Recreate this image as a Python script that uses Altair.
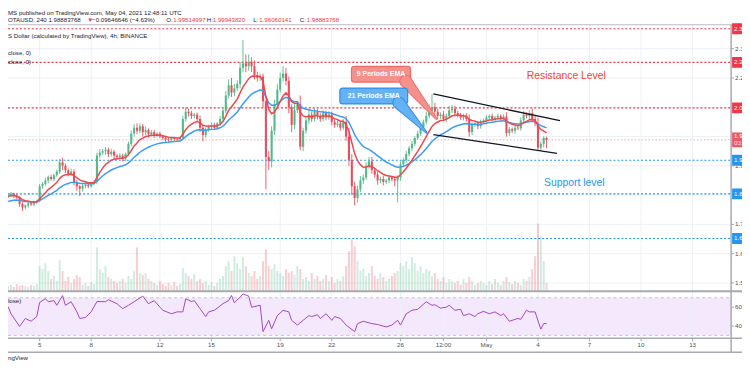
import altair as alt
import pandas as pd

# ---------------- chart values ----------------
# 4h IOTA/USD candles, first one opens 2021-04-03 04:00 UTC
first_candle = "2021-04-03 04:00"
first_open = 1.795
closes = [
    1.800, 1.805, 1.798, 1.792, 1.770, 1.758, 1.765, 1.772, 1.768, 1.775,
    1.780, 1.830, 1.838, 1.850, 1.862, 1.855, 1.868, 1.880, 1.912, 1.900,
    1.885, 1.872, 1.880, 1.845, 1.830, 1.822, 1.832, 1.835, 1.830, 1.840,
    1.845, 1.935, 1.945, 1.950, 1.955, 1.940, 1.948, 1.935, 1.930, 1.935,
    1.925, 1.940, 1.975, 2.010, 2.030, 2.020, 2.035, 2.015, 2.022, 2.008,
    2.015, 2.005, 2.010, 2.000, 1.995, 1.990, 1.988, 1.995, 1.992, 1.990,
    1.995, 2.060, 2.085, 2.080, 2.070, 2.075, 2.060, 2.030, 2.005, 2.025,
    2.035, 2.040, 2.030, 2.045, 2.060, 2.088, 2.140, 2.175, 2.150, 2.165,
    2.180, 2.235, 2.250, 2.240, 2.255, 2.240, 2.210, 2.200, 2.205, 2.120,
    1.930, 1.915, 2.020, 2.110, 2.160, 2.200, 2.215, 2.190, 2.100, 2.040,
    2.090, 2.110, 1.965, 2.020, 2.055, 2.075, 2.060, 2.085, 2.070, 2.060,
    2.080, 2.065, 2.075, 2.050, 2.040, 2.045, 2.030, 2.050, 2.000, 1.920,
    1.830, 1.790, 1.820, 1.850, 1.860, 1.900, 1.915, 1.885, 1.870, 1.850,
    1.855, 1.845, 1.850, 1.860, 1.855, 1.850, 1.860, 1.905, 1.920, 1.940,
    1.960, 1.975, 1.995, 2.010, 2.030, 2.050, 2.070, 2.090, 2.100, 2.085,
    2.070, 2.075, 2.060, 2.070, 2.090, 2.095, 2.080, 2.075, 2.065, 2.070,
    2.060, 2.015, 2.040, 2.045, 2.035, 2.050, 2.055, 2.065, 2.070, 2.060,
    2.065, 2.070, 2.062, 2.068, 2.012, 2.025, 2.020, 2.030, 2.028, 2.055,
    2.075, 2.070, 2.080, 2.060, 2.045, 1.962, 1.975, 1.99514997, 1.98883768,
]
# wick lengths beyond the body, in thousandths of a dollar
upper_wick = [
    4, 6, 3, 5, 4, 6, 3, 5, 4, 6,
    5, 8, 6, 10, 5, 8, 6, 7, 12, 15,
    8, 6, 10, 8, 6, 5, 7, 4, 6, 5,
    6, 10, 12, 8, 9, 7, 10, 6, 5, 8,
    6, 5, 8, 10, 12, 15, 10, 8, 12, 6,
    7, 8, 5, 6, 4, 5, 6, 4, 5, 4,
    5, 10, 15, 10, 8, 6, 7, 12, 8, 6,
    6, 8, 7, 5, 10, 12, 15, 20, 25, 15,
    12, 20, 80, 30, 25, 15, 20, 12, 10, 10,
    5, 20, 15, 15, 20, 18, 25, 20, 15, 10,
    20, 12, 30, 10, 12, 15, 10, 12, 8, 10,
    10, 8, 12, 10, 8, 10, 8, 10, 20, 30,
    20, 15, 12, 15, 10, 12, 15, 15, 8, 10,
    8, 10, 6, 8, 5, 6, 8, 10, 8, 10,
    8, 10, 6, 10, 12, 8, 15, 20, 45, 15,
    10, 8, 12, 8, 15, 12, 10, 8, 6, 8,
    10, 15, 8, 10, 8, 8, 6, 8, 6, 8,
    6, 8, 6, 8, 15, 8, 6, 8, 6, 10,
    12, 8, 10, 15, 12, 20, 8, 6, 4.29,
]
lower_wick = [
    5, 4, 8, 6, 10, 12, 6, 8, 5, 6,
    6, 5, 8, 5, 10, 6, 8, 5, 8, 15,
    10, 8, 6, 12, 15, 25, 10, 8, 6, 5,
    6, 8, 10, 8, 12, 10, 8, 12, 10, 8,
    10, 8, 6, 8, 10, 12, 8, 15, 10, 12,
    8, 10, 8, 6, 8, 10, 6, 5, 6, 8,
    6, 8, 10, 12, 10, 8, 10, 15, 20, 10,
    8, 10, 8, 6, 8, 10, 8, 10, 15, 12,
    10, 15, 15, 20, 15, 20, 15, 12, 10, 20,
    110, 30, 20, 15, 12, 10, 12, 15, 20, 25,
    15, 10, 12, 15, 10, 12, 10, 8, 12, 10,
    8, 10, 8, 12, 10, 8, 10, 8, 15, 20,
    30, 25, 15, 10, 12, 8, 10, 12, 10, 15,
    10, 12, 8, 10, 8, 20, 75, 10, 8, 10,
    8, 10, 8, 6, 8, 10, 8, 8, 12, 10,
    12, 10, 8, 10, 8, 10, 12, 10, 8, 10,
    8, 15, 10, 8, 10, 8, 6, 8, 10, 8,
    8, 6, 10, 8, 12, 10, 8, 10, 6, 8,
    6, 8, 10, 8, 10, 7, 10, 12, 28.24,
]
volumes = [
    5, 6, 4, 7, 5, 6, 5, 4, 6, 5,
    7, 25, 22, 28, 20, 12, 15, 10, 31, 20,
    10, 14, 8, 12, 16, 14, 6, 8, 5, 9,
    7, 44, 22, 18, 25, 14, 12, 10, 8, 10,
    12, 8, 15, 12, 20, 44, 18, 16, 18, 12,
    10, 8, 6, 10, 7, 5, 8, 6, 9, 5,
    7, 23, 18, 15, 12, 17, 10, 12, 8, 10,
    6, 9, 5, 8, 12, 15, 25, 30, 20, 35,
    28, 22, 34, 25, 18, 15, 20, 12, 15, 30,
    42, 25, 22, 27, 20, 18, 15, 22, 18, 20,
    16, 25, 22, 12, 14, 10, 18, 12, 15, 10,
    12, 16, 10, 14, 8, 12, 10, 15, 25, 40,
    52, 45, 30, 20, 22, 15, 18, 25, 15, 12,
    18, 14, 10, 12, 15, 18, 20, 28, 25, 30,
    22, 34, 28, 20, 25, 18, 22, 20, 15, 18,
    12, 10, 14, 8, 12, 10, 8, 10, 6, 12,
    8, 14, 10, 6, 8, 10, 8, 6, 10, 7,
    12, 8, 6, 10, 14, 9, 7, 10, 8, 6,
    12, 10, 14, 22, 35, 68, 55, 30, 8,
]
ema9_seed = 1.795
ema21_seed = 1.776

# RSI (14, close): candle number -> value
rsi_candle = [
    0, 1, 4, 6, 8, 10, 11, 13, 14, 16, 17, 19, 20, 22, 24, 25, 27, 29, 31, 34,
    35, 38, 40, 42, 44, 47, 49, 51, 53, 54, 57, 59, 61, 62, 64, 65, 67, 69, 70, 72,
    73, 75, 77, 78, 79, 81, 82, 84, 85, 88, 89, 91, 92, 94, 96, 98, 99, 101, 103, 105,
    106, 108, 109, 111, 113, 114, 116, 118, 121, 122, 124, 127, 129, 132, 134, 136, 137, 139, 141, 143,
    146, 148, 149, 151, 153, 154, 156, 158, 159, 161, 163, 164, 166, 168, 170, 172, 173, 175, 178, 179,
    181, 182, 184, 186, 187, 188,
]
rsi_value = [
    60.5, 53, 39.5, 48, 45, 50, 65, 69, 65.8, 67, 62, 72.4, 62, 65.8, 55, 48, 49, 55, 66, 65.8,
    68, 63.7, 58.4, 62, 65.8, 71.8, 63.7, 67, 60, 56.7, 53, 55, 55, 69, 66, 67, 58.4, 50, 55, 56.7,
    59, 63.7, 67, 72.4, 64.7, 70.7, 74, 71.8, 60, 62, 34, 46, 37, 51, 56.7, 55, 46, 41, 46, 51,
    50, 52, 48, 53, 46, 50, 48, 41, 34, 42.5, 45, 42.5, 41.6, 39, 41, 46, 41, 53, 56.7, 57.7,
    65.8, 62, 62.6, 59, 60, 62, 56.7, 57.7, 51, 53, 50, 53, 55.6, 53, 55, 51, 53, 45, 48, 47,
    56.7, 55, 55, 36.6, 42.6, 42.6,
]

resistance_levels = [2.3682, 2.2534, 2.0980]
support_levels = [1.9189, 1.8041, 1.6520]
last_close = 1.98883768
countdown = "03:11:49"

price_grid = [2.3, 2.2, 2.1, 2.0, 1.9, 1.8, 1.7, 1.6, 1.5]
price_labels = [2.3, 2.2, 1.9, 1.7, 1.6, 1.5]
rsi_labels = [60, 40]
rsi_band = [30, 70]
time_ticks = ["2021-04-05", "2021-04-08", "2021-04-12", "2021-04-15", "2021-04-19",
              "2021-04-22", "2021-04-26", "2021-04-28 12:00", "2021-05-01",
              "2021-05-04", "2021-05-07", "2021-05-10", "2021-05-13"]
time_labels = ["5", "8", "12", "15", "19", "22", "26", "12:00", "May", "4", "7", "10", "13"]

# drawings, in hours after 2021-04-05 00:00 UTC and price in USD
channel_top_t = [549.9, 726.8]
channel_top_p = [2.1453, 2.0541]
channel_bot_t = [549.9, 722.6]
channel_bot_p = [2.0068, 1.9426]
ema9_box_t = [435.5, 518.1]
ema9_box_p = [2.1858, 2.2399]
ema9_tail_t = [511.2, 554.1]
ema9_tail_p = [2.1892, 2.0608]
ema21_box_t = [419.3, 514.0]
ema21_box_p = [2.1115, 2.1655]
ema21_tail_t = [501.5, 540.2]
ema21_tail_p = [2.1149, 2.0135]
resistance_text_at = [680.5, 2.2061]
support_text_at = [704.5, 1.8412]

header1 = "MS published on TradingView.com, May 04, 2021 12:48:11 UTC"
header2 = [("OTAUSD, 240 1.98883768", "dark"), ("\u25bc", "red"),
           ("\u22120.09646646 (\u22124.63%)", "dark"), ("O:", "dark"),
           ("1.99514997", "red"), ("H:", "dark"), ("1.99943820", "red"),
           ("L:", "dark"), ("1.96060141", "red"), ("C:", "dark"), ("1.98883768", "red")]
header3 = "S Dollar (calculated by TradingView), 4h, BINANCE"
legend_ema = ["close, 0)", "close, 0)"]
legend_rsi = "lose)"
footer = "ngView"

# ---------------- styling ----------------
FONT = "Liberation Sans"
UP, DOWN = "#53b987", "#eb4d5c"
EMA9_C, EMA21_C = "#f1464c", "#3b9cf2"
RED_L, BLUE_L = "#f23645", "#2196f3"
GRID = "#edf0f5"
FRAME = "#a6a9b1"
DARK = "#1e222d"
AXIS_T = "#4c525e"
RSI_C = "#a247c9"
RSI_BG = "#f4e8fd"

XS = alt.Scale(domain=[-44.21, 965.8], range=[0, 731], nice=False, zero=False)
PS = alt.Scale(domain=[1.472973, 2.381757], range=[284, 15], nice=False, zero=False)
RS = alt.Scale(domain=[30, 70], range=[329, 291], nice=False, zero=False)
VS = alt.Scale(domain=[0, 100], range=[284, 184], nice=False, zero=False)


def xq(f="t"):
    return alt.X(f"{f}:Q", scale=XS, axis=None)


def yp(f="p"):
    return alt.Y(f"{f}:Q", scale=PS, axis=None)


T0 = pd.Timestamp("2021-04-05")
times = pd.date_range(first_candle, periods=len(closes), freq="4h")
hours = [(t - T0).total_seconds() / 3600 for t in times]
opens = [first_open] + closes[:-1]
highs = [max(o, c) + u / 1000 for o, c, u in zip(opens, closes, upper_wick)]
lows = [min(o, c) - d / 1000 for o, c, d in zip(opens, closes, lower_wick)]
cols = [UP if c >= o else DOWN for o, c in zip(opens, closes)]


def ema(vals, n, seed):
    a = 2.0 / (n + 1)
    e = seed
    out = []
    for v in vals:
        e = a * v + (1 - a) * e
        out.append(e)
    return out


cdf = pd.DataFrame({"t": hours, "o": opens, "c": closes, "h": highs, "l": lows,
                    "col": cols, "v": volumes, "v0": [0] * len(closes),
                    "e9": ema(closes, 9, ema9_seed), "e21": ema(closes, 21, ema21_seed)})

layers = []


def ptext(s, x, y, size=6.2, color=DARK, weight="normal", align="left", font=FONT):
    return alt.Chart(pd.DataFrame({"s": [s]})).mark_text(
        align=align, baseline="middle", fontSize=size, font=font, color=color,
        fontWeight=weight).encode(x=alt.value(x), y=alt.value(y), text="s:N")


def hrule(y, x1, x2, color=FRAME, width=1.0):
    return alt.Chart(pd.DataFrame({"a": [0]})).mark_rule(color=color, strokeWidth=width).encode(
        x=alt.value(x1), x2=alt.value(x2), y=alt.value(y))


# RSI band
layers.append(alt.Chart(pd.DataFrame({"lo": [rsi_band[0]], "hi": [rsi_band[1]]})).mark_rect(
    color=RSI_BG).encode(x=alt.value(0), x2=alt.value(731),
                         y=alt.Y("lo:Q", scale=RS, axis=None), y2="hi:Q"))

# grid
tick_hours = [(pd.Timestamp(d) - T0).total_seconds() / 3600 for d in time_ticks]
tdf = pd.DataFrame({"t": tick_hours, "lab": time_labels})
layers.append(alt.Chart(tdf).mark_rule(color=GRID, strokeWidth=1).encode(
    x=xq(), y=alt.value(15), y2=alt.value(332)))
layers.append(alt.Chart(pd.DataFrame({"p": price_grid})).mark_rule(color=GRID, strokeWidth=1).encode(
    y=yp(), x=alt.value(0), x2=alt.value(731)))

# volume
layers.append(alt.Chart(cdf).mark_rule(strokeWidth=2.0, opacity=0.28).encode(
    x=xq(), y=alt.Y("v:Q", scale=VS, axis=None), y2="v0:Q",
    color=alt.Color("col:N", scale=None)))

# level lines
layers.append(alt.Chart(pd.DataFrame({"p": resistance_levels})).mark_rule(
    color=RED_L, strokeWidth=1.1, strokeDash=[2, 2]).encode(y=yp(), x=alt.value(0), x2=alt.value(731)))
layers.append(alt.Chart(pd.DataFrame({"p": support_levels})).mark_rule(
    color=BLUE_L, strokeWidth=1.1, strokeDash=[2, 2]).encode(y=yp(), x=alt.value(0), x2=alt.value(731)))
layers.append(alt.Chart(pd.DataFrame({"p": [last_close]})).mark_rule(
    color="#f4a3ab", strokeWidth=1, strokeDash=[1.5, 2]).encode(y=yp(), x=alt.value(0), x2=alt.value(731)))

# candles
layers.append(alt.Chart(cdf).mark_rule(strokeWidth=0.9).encode(
    x=xq(), y=yp("l"), y2="h:Q", color=alt.Color("col:N", scale=None)))
layers.append(alt.Chart(cdf).mark_rule(strokeWidth=2.1).encode(
    x=xq(), y=yp("o"), y2="c:Q", color=alt.Color("col:N", scale=None)))

# EMAs
layers.append(alt.Chart(cdf).mark_line(color=EMA21_C, strokeWidth=1.5).encode(x=xq(), y=yp("e21")))
layers.append(alt.Chart(cdf).mark_line(color=EMA9_C, strokeWidth=1.5).encode(x=xq(), y=yp("e9")))

# channel
for tt, pp in [(channel_top_t, channel_top_p), (channel_bot_t, channel_bot_p)]:
    layers.append(alt.Chart(pd.DataFrame({"t": tt, "p": pp})).mark_line(
        color="#131722", strokeWidth=1.3).encode(x=xq(), y=yp()))

# callouts
for bt, bp, tt, tp, txt, fill, edge in [
    (ema9_box_t, ema9_box_p, ema9_tail_t, ema9_tail_p, "9 Periods EMA", "#f4918c", "#ee6d69"),
    (ema21_box_t, ema21_box_p, ema21_tail_t, ema21_tail_p, "21 Periods EMA", "#64b2f5", "#2f8fe8"),
]:
    layers.append(alt.Chart(pd.DataFrame({"t1": [bt[0]], "t2": [bt[1]], "p1": [bp[0]], "p2": [bp[1]]})).mark_rect(
        fill=fill, stroke=edge, strokeWidth=1.2, cornerRadius=3).encode(
        x=xq("t1"), x2="t2:Q", y=yp("p1"), y2="p2:Q"))
    tail = pd.DataFrame({"t": tt, "p": tp, "w": [13, 2.2], "w2": [11, 0.6]})
    layers.append(alt.Chart(tail).mark_trail(color=edge).encode(
        x=xq(), y=yp(), size=alt.Size("w:Q", scale=None, legend=None)))
    layers.append(alt.Chart(tail).mark_trail(color=fill).encode(
        x=xq(), y=yp(), size=alt.Size("w2:Q", scale=None, legend=None)))
    layers.append(alt.Chart(pd.DataFrame({"t": [sum(bt) / 2], "p": [sum(bp) / 2], "s": [txt]})).mark_text(
        color="white", fontSize=7, fontWeight="bold", font=FONT, baseline="middle").encode(
        x=xq(), y=yp(), text="s:N"))

# level texts
layers.append(alt.Chart(pd.DataFrame({"t": [resistance_text_at[0]], "p": [resistance_text_at[1]],
                                      "s": ["Resistance Level"]})).mark_text(
    color="#f44336", fontSize=10.5, font=FONT, align="left", baseline="middle").encode(
    x=xq(), y=yp(), text="s:N"))
layers.append(alt.Chart(pd.DataFrame({"t": [support_text_at[0]], "p": [support_text_at[1]],
                                      "s": ["Support level"]})).mark_text(
    color="#2196f3", fontSize=10.5, font=FONT, align="left", baseline="middle").encode(
    x=xq(), y=yp(), text="s:N"))

# RSI
layers.append(alt.Chart(pd.DataFrame({"r": rsi_band})).mark_rule(
    color="#c2c2c8", strokeWidth=1, strokeDash=[3, 3]).encode(
    y=alt.Y("r:Q", scale=RS, axis=None), x=alt.value(0), x2=alt.value(731)))
rdf = pd.DataFrame({"t": [hours[i] for i in rsi_candle], "r": rsi_value})
layers.append(alt.Chart(rdf).mark_line(color=RSI_C, strokeWidth=1).encode(
    x=xq(), y=alt.Y("r:Q", scale=RS, axis=None)))

# frame
layers.append(hrule(15, 0, 742, "#b8bbc2", 1))
layers.append(hrule(284.5, 0, 742, FRAME, 2))
layers.append(hrule(332, 0, 742, FRAME, 1.5))
layers.append(hrule(346, 0, 742, FRAME, 1.5))
layers.append(alt.Chart(pd.DataFrame({"a": [0]})).mark_rule(color=FRAME, strokeWidth=1.5).encode(
    x=alt.value(731), y=alt.value(15), y2=alt.value(346)))

# time axis
layers.append(alt.Chart(tdf).mark_rule(color=FRAME, strokeWidth=1).encode(
    x=xq(), y=alt.value(332), y2=alt.value(335)))
layers.append(alt.Chart(tdf).mark_text(fontSize=6.3, font=FONT, color=AXIS_T, baseline="middle").encode(
    x=xq(), y=alt.value(339), text="lab:N"))

# price axis
pl = pd.DataFrame({"p": price_labels, "s": [f"{v:.4f}" for v in price_labels]})
layers.append(alt.Chart(pl).mark_rule(color=FRAME, strokeWidth=1).encode(
    y=yp(), x=alt.value(731), x2=alt.value(734)))
layers.append(alt.Chart(pl).mark_text(fontSize=6.3, font=FONT, color=AXIS_T, align="left",
                                      baseline="middle").encode(y=yp(), x=alt.value(735), text="s:N"))
for levels, colr in [(resistance_levels, RED_L), (support_levels, BLUE_L)]:
    ld = pd.DataFrame({"p": levels, "s": [f"{v:.4f}" for v in levels]})
    layers.append(alt.Chart(ld).mark_rule(color=colr, strokeWidth=11).encode(
        y=yp(), x=alt.value(732), x2=alt.value(770)))
    layers.append(alt.Chart(ld).mark_text(fontSize=6.3, font=FONT, color="white", align="left",
                                          baseline="middle").encode(y=yp(), x=alt.value(734), text="s:N"))
lc = pd.DataFrame({"p": [last_close], "s": [f"{last_close:.8f}"], "cd": [countdown]})
layers.append(alt.Chart(lc).mark_rule(color="#ec5868", strokeWidth=15).encode(
    y=yp(), x=alt.value(732), x2=alt.value(770)))
layers.append(alt.Chart(lc).mark_text(fontSize=6.3, font=FONT, color="white", align="left",
                                      baseline="middle", dy=-3.5).encode(y=yp(), x=alt.value(734), text="s:N"))
layers.append(alt.Chart(lc).mark_text(fontSize=6.3, font=FONT, color="#fde0e3", align="left",
                                      baseline="middle", dy=3.5).encode(y=yp(), x=alt.value(734), text="cd:N"))
rl = pd.DataFrame({"r": rsi_labels, "s": [str(v) for v in rsi_labels]})
layers.append(alt.Chart(rl).mark_rule(color=FRAME, strokeWidth=1).encode(
    y=alt.Y("r:Q", scale=RS, axis=None), x=alt.value(731), x2=alt.value(734)))
layers.append(alt.Chart(rl).mark_text(fontSize=6.3, font=FONT, color=AXIS_T, align="left",
                                      baseline="middle").encode(
    y=alt.Y("r:Q", scale=RS, axis=None), x=alt.value(735), text="s:N"))

# header / legends
layers.append(ptext(header1, 0, 2.8))
seg_x = [0, 80, 85, 160, 167, 201, 207, 248, 254, 295, 302]
for (s, kind), x in zip(header2, seg_x):
    layers.append(ptext(s, x, 10.5, color=(RED_L if kind == "red" else DARK)))
layers.append(ptext(header3, 0, 26))
layers.append(ptext(legend_ema[0], 0, 44))
layers.append(ptext(legend_ema[1], 0, 53))
layers.append(ptext(legend_rsi, 0, 294.5))
layers.append(ptext(footer, 0, 352))

chart = alt.layer(*layers).resolve_scale(y="independent").properties(
    width=742, height=356, padding=0, autosize=alt.AutoSizeParams(type="none"),
    background="white").configure_view(stroke=None)

chart.save("out.html", embed_options={"renderer": "svg", "actions": False})
